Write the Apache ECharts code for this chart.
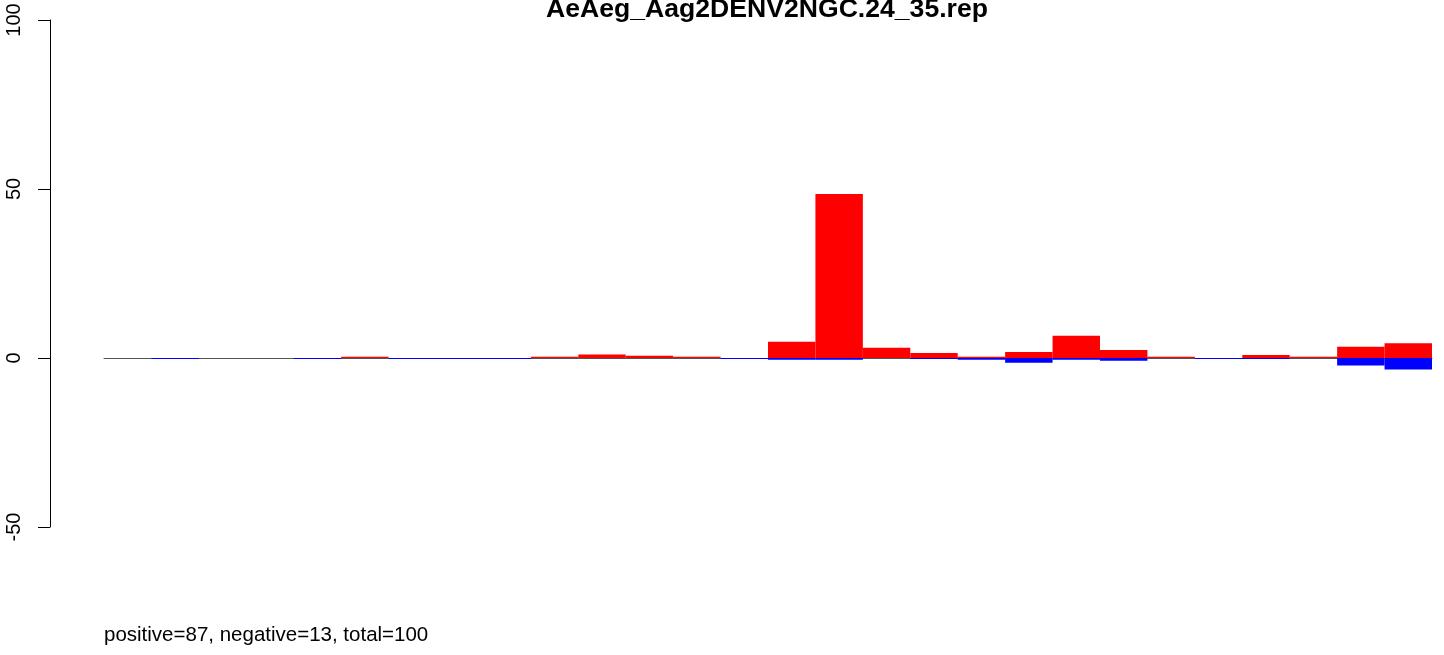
<!DOCTYPE html>
<html>
<head>
<meta charset="utf-8">
<script src="https://cdn.jsdelivr.net/npm/echarts@6/dist/echarts.min.js"></script>
<style>
html,body{margin:0;padding:0;background:#fff;}
#chart{width:1444px;height:655px;}
</style>
</head>
<body>
<div id="chart"></div>
<script>
// Data
const titleText = "AeAeg_Aag2DENV2NGC.24_35.rep";
const footerText = "positive=87, negative=13, total=100";
const categories = ["1","2","3","4","5","6","7","8","9","10","11","12","13","14",
                    "15","16","17","18","19","20","21","22","23","24","25","26","27","28"];
const positiveValues = [0, 0, 0, 0, 0, 0.4, 0, 0, 0, 0.4, 1.0, 0.7, 0.4, 0,
                        4.8, 48.5, 3.0, 1.5, 0.4, 1.8, 6.6, 2.4, 0.4, 0, 0.9, 0.4, 3.3, 4.4];
const negativeValues = [0, -0.3, 0, 0, -0.3, 0, -0.3, -0.3, -0.3, 0, 0, 0, 0, -0.3,
                        -0.5, -0.5, 0, -0.3, -0.5, -1.4, -0.5, -0.8, 0, -0.3, -0.3, 0, -2.2, -3.4];
const yTicks = { min: -50, max: 100, interval: 50 };

const chart = echarts.init(document.getElementById('chart'), null, { renderer: 'canvas' });
const font = 'Liberation Sans, Arial, Helvetica, sans-serif';
chart.setOption({
  animation: false,
  backgroundColor: '#ffffff',
  grid: { left: 104, right: 12, top: 20, bottom: 128 },
  xAxis: {
    type: 'category',
    data: categories,
    boundaryGap: true,
    z: 0,
    axisLine: { show: true, onZero: true, lineStyle: { color: '#555555', width: 1 } },
    axisTick: { show: false },
    axisLabel: { show: false },
    splitLine: { show: false }
  },
  yAxis: {
    type: 'value',
    min: yTicks.min,
    max: yTicks.max,
    interval: yTicks.interval,
    offset: 54,
    axisLine: { show: true, lineStyle: { color: '#000', width: 1 } },
    axisTick: { show: true, length: 12, lineStyle: { color: '#000', width: 1 } },
    axisLabel: { show: true, rotate: 90, margin: 26, color: '#000', fontSize: 20, fontFamily: font },
    splitLine: { show: false }
  },
  series: [
    {
      name: 'positive', type: 'bar', data: positiveValues, z: 5,
      barGap: '-100%', barCategoryGap: '0%',
      itemStyle: { color: '#ff0000', borderWidth: 0 }
    },
    {
      name: 'negative', type: 'bar', data: negativeValues, z: 6,
      barGap: '-100%', barCategoryGap: '0%',
      itemStyle: { color: '#0000ff', borderWidth: 0 }
    }
  ],
  graphic: [
    { type: 'text', x: 767, y: 10, style: { text: titleText, font: 'bold 26.6px ' + font, fill: '#000', align: 'center', verticalAlign: 'middle' } },
    { type: 'text', x: 104, y: 635, style: { text: footerText, font: '20.5px ' + font, fill: '#000', align: 'left', verticalAlign: 'middle' } }
  ]
});
</script>
</body>
</html>
